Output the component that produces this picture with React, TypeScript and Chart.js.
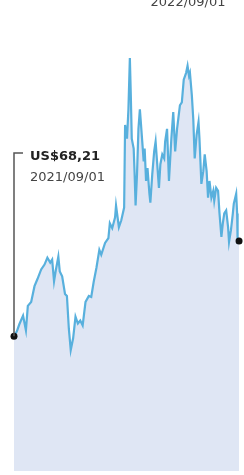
import React, { useEffect, useRef } from "react";
import { Chart, registerables } from "chart.js";

Chart.register(...registerables);

// Days since 2021/09/01
const days = [
  0, 6, 11, 19, 25, 29, 36, 43, 49, 57, 64, 70, 76, 80, 84, 88, 93, 96, 101, 107,
  111, 115, 119, 124, 129, 134, 139, 144, 150, 157, 162, 167, 173, 179, 183, 191,
  198, 201, 206, 212, 214, 220, 225, 231, 233, 237, 240, 243, 245, 247, 251, 253,
  255, 258, 261, 264, 266, 269, 272, 274, 277, 280, 284, 286, 290, 294, 297, 301,
  304, 307, 311, 315, 317, 321, 325, 330, 334, 338, 342, 348, 352, 356, 361, 364,
  367, 369, 373, 376, 379, 383, 387, 389, 393, 397, 400, 404, 407, 410, 414, 418,
  420, 424, 428, 431, 435, 438, 441, 445, 449, 451, 455, 459, 461, 466, 468, 469, 472,
];

// Price in US$
const prices = [
  68.21, 70.7, 74.18, 78.67, 71.2, 83.64, 85.64, 93.6, 97.09, 102.07, 104.55, 108.04,
  105.55, 107.04, 96.09, 102.07, 108.54, 101.07, 98.58, 89.62, 88.62, 72.19, 61.24,
  67.21, 78.17, 74.68, 76.18, 73.69, 85.64, 88.62, 88.12, 95.59, 103.06, 112.02,
  109.53, 115.51, 118.0, 125.47, 122.98, 128.45, 134.43, 123.47, 126.96, 133.43,
  175.25, 168.28, 183.22, 209.11, 190.19, 168.28, 163.3, 150.36, 134.43, 150.36,
  173.26, 183.22, 176.75, 166.79, 156.83, 163.3, 146.87, 153.35, 140.4, 135.92,
  150.36, 161.81, 166.79, 153.35, 143.39, 155.34, 160.32, 158.33, 166.79, 173.26,
  146.87, 168.28, 181.73, 161.81, 173.26, 185.21, 186.71, 198.16, 201.64, 205.13,
  200.15, 201.64, 190.19, 178.24, 158.33, 170.27, 176.75, 168.28, 145.38, 151.85,
  160.32, 151.85, 138.41, 146.87, 138.41, 141.9, 136.92, 143.39, 141.9, 130.44,
  118.5, 125.47, 130.44, 131.94, 123.47, 116.01, 121.98, 130.44, 135.42, 140.4,
  130.44, 116.01, 116.5,
];

const startLabel = "US$68,21";
const startDate = "2021/09/01";
const topDate = "2022/09/01";
const topDateDay = 365;

const annotationPlugin = {
  id: "annot",
  afterDatasetsDraw(chart: any) {
    const ctx = chart.ctx;
    const meta = chart.getDatasetMeta(0);
    const p0 = meta.data[0];
    const xs = chart.scales.x;
    ctx.save();
    // leader line
    ctx.strokeStyle = "#555555";
    ctx.lineWidth = 1.5;
    ctx.beginPath();
    ctx.moveTo(p0.x, p0.y);
    ctx.lineTo(p0.x, 153);
    ctx.lineTo(p0.x + 9, 153);
    ctx.stroke();
    // texts
    ctx.textBaseline = "alphabetic";
    ctx.textAlign = "left";
    ctx.fillStyle = "#222222";
    ctx.font = "bold 13px 'DejaVu Sans'";
    ctx.fillText(startLabel, p0.x + 16, 159.5);
    ctx.fillStyle = "#444444";
    ctx.font = "13px 'DejaVu Sans'";
    ctx.fillText(startDate, p0.x + 16, 180.5);
    ctx.textAlign = "center";
    ctx.fillText(topDate, xs.getPixelForValue(topDateDay), 6);
    ctx.restore();
  },
};

export default function App() {
  const ref = useRef<HTMLCanvasElement | null>(null);
  useEffect(() => {
    if (!ref.current) return;
    const last = prices.length - 1;
    const chart = new Chart(ref.current, {
      type: "line",
      data: {
        datasets: [
          {
            data: days.map((d, i) => ({ x: d, y: prices[i] })),
            borderColor: "#58b0dd",
            borderWidth: 2.2,
            backgroundColor: "#dfe6f4",
            fill: "start",
            tension: 0,
            clip: false as any,
            pointRadius: (c: any) => (c.dataIndex === 0 || c.dataIndex === last ? 3.5 : 0),
            pointBackgroundColor: "#111111",
            pointBorderWidth: 0,
          },
        ],
      },
      options: {
        responsive: false,
        animation: false,
        layout: { padding: { left: 14, right: 0, top: 0, bottom: 0 } },
        plugins: { legend: { display: false }, tooltip: { enabled: false } },
        scales: {
          x: { type: "linear", min: 0, max: 474, display: false },
          y: { min: 0, max: 236.5, display: false },
        },
      },
      plugins: [annotationPlugin],
    });
    return () => chart.destroy();
  }, []);
  return (
    <div style={{ position: "absolute", left: 0, top: 0, width: 244, height: 475 }}>
      <canvas ref={ref} width={244} height={475} style={{ display: "block" }} />
    </div>
  );
}
